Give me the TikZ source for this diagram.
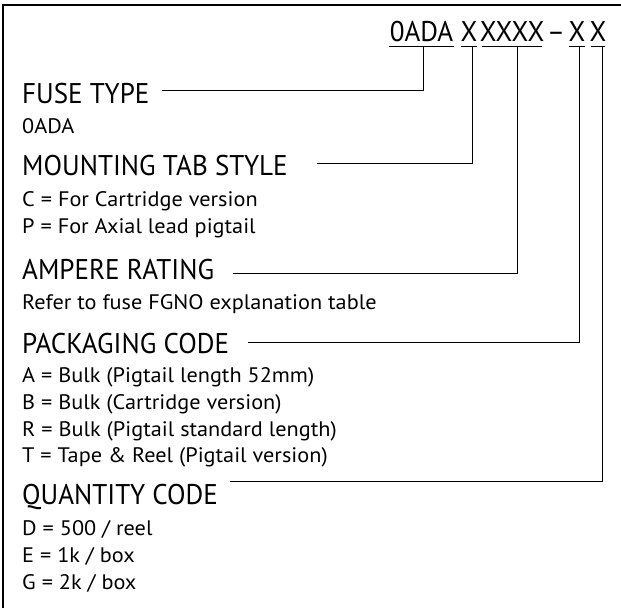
\documentclass[tikz,border=0pt]{standalone}
\usepackage{fontspec}
\setmainfont{PT Sans}
\newfontfamily\headfont[FakeStretch=0.95]{PT Sans}
\newfontfamily\itemfont[FakeStretch=1.06]{PT Sans}
\begin{document}
\begin{tikzpicture}[x=1pt,y=-1pt,
		code/.style={anchor=base,inner sep=0pt,font=\headfont\fontsize{28.5}{30}\selectfont},
		head/.style={anchor=base west,inner sep=0pt,font=\headfont\fontsize{28.5}{30}\selectfont},
		item/.style={anchor=base west,inner sep=0pt,font=\itemfont\fontsize{21}{23}\selectfont},
		lead/.style={line width=1pt}]
		\useasboundingbox (0,0) rectangle (621,608);
		\draw[line width=2pt] (3,608) -- (3,5) -- (621,5);
		% ordering code
		\node[code] (c0) at (421.5,41) {0ADA};
		\node[code] (c1) at (469,41) {X};
		\node[code] (c2) at (512,41) {XXXX};
		\node[code] (dash) at (556,41) {–};
		\node[code] (c3) at (577,41) {X};
		\node[code] (c4) at (598,41) {X};
		\draw[lead] (389,46) -- (454,46);
		\draw[lead] (461,46) -- (477,46);
		\draw[lead] (482,46) -- (542,46);
		\draw[lead] (569,46) -- (585,46);
		\draw[lead] (591,46) -- (605,46);
		% headings and values
		\node[head] (fuse) at (22,103) {FUSE TYPE};
		\node[item] at (22,133) {0ADA};
		\node[head] (tab) at (22,175) {MOUNTING TAB STYLE};
		\node[item] at (22,206) {C = For Cartridge version};
		\node[item] at (22,233) {P = For Axial lead pigtail};
		\node[head] (amp) at (22,279) {AMPERE RATING};
		\node[item] at (22,309) {Refer to fuse FGNO explanation table};
		\node[head] (pack) at (22,353) {PACKAGING CODE};
		\node[item] at (22,382) {A = Bulk (Pigtail length 52mm)};
		\node[item] at (22,409) {B = Bulk (Cartridge version)};
		\node[item] at (22,436) {R = Bulk (Pigtail standard length)};
		\node[item] at (22,462) {T = Tape \& Reel (Pigtail version)};
		\node[head] (qty) at (22,504) {QUANTITY CODE};
		\node[item] at (22,535) {D = 500 / reel};
		\node[item] at (22,562) {E = 1k / box};
		\node[item] at (22,589) {G = 2k / box};
		% leaders
		\coordinate (lfuse) at (162,90);
		\coordinate (ltab) at (317,163);
		\coordinate (lamp) at (233,273);
		\coordinate (lpack) at (248,342);
		\coordinate (lqty) at (230,481);
		\draw[lead] (c0.base) ++(1.5,5) |- (lfuse);
		\draw[lead] (c1.base) ++(3,5) |- (ltab);
		\draw[lead] (c2.base) ++(5,5) |- (lamp);
		\draw[lead] (c3.base) ++(2,5) |- (lpack);
		\draw[lead] (c4.base) ++(4,5) |- (lqty);
	\end{tikzpicture}
\end{document}
